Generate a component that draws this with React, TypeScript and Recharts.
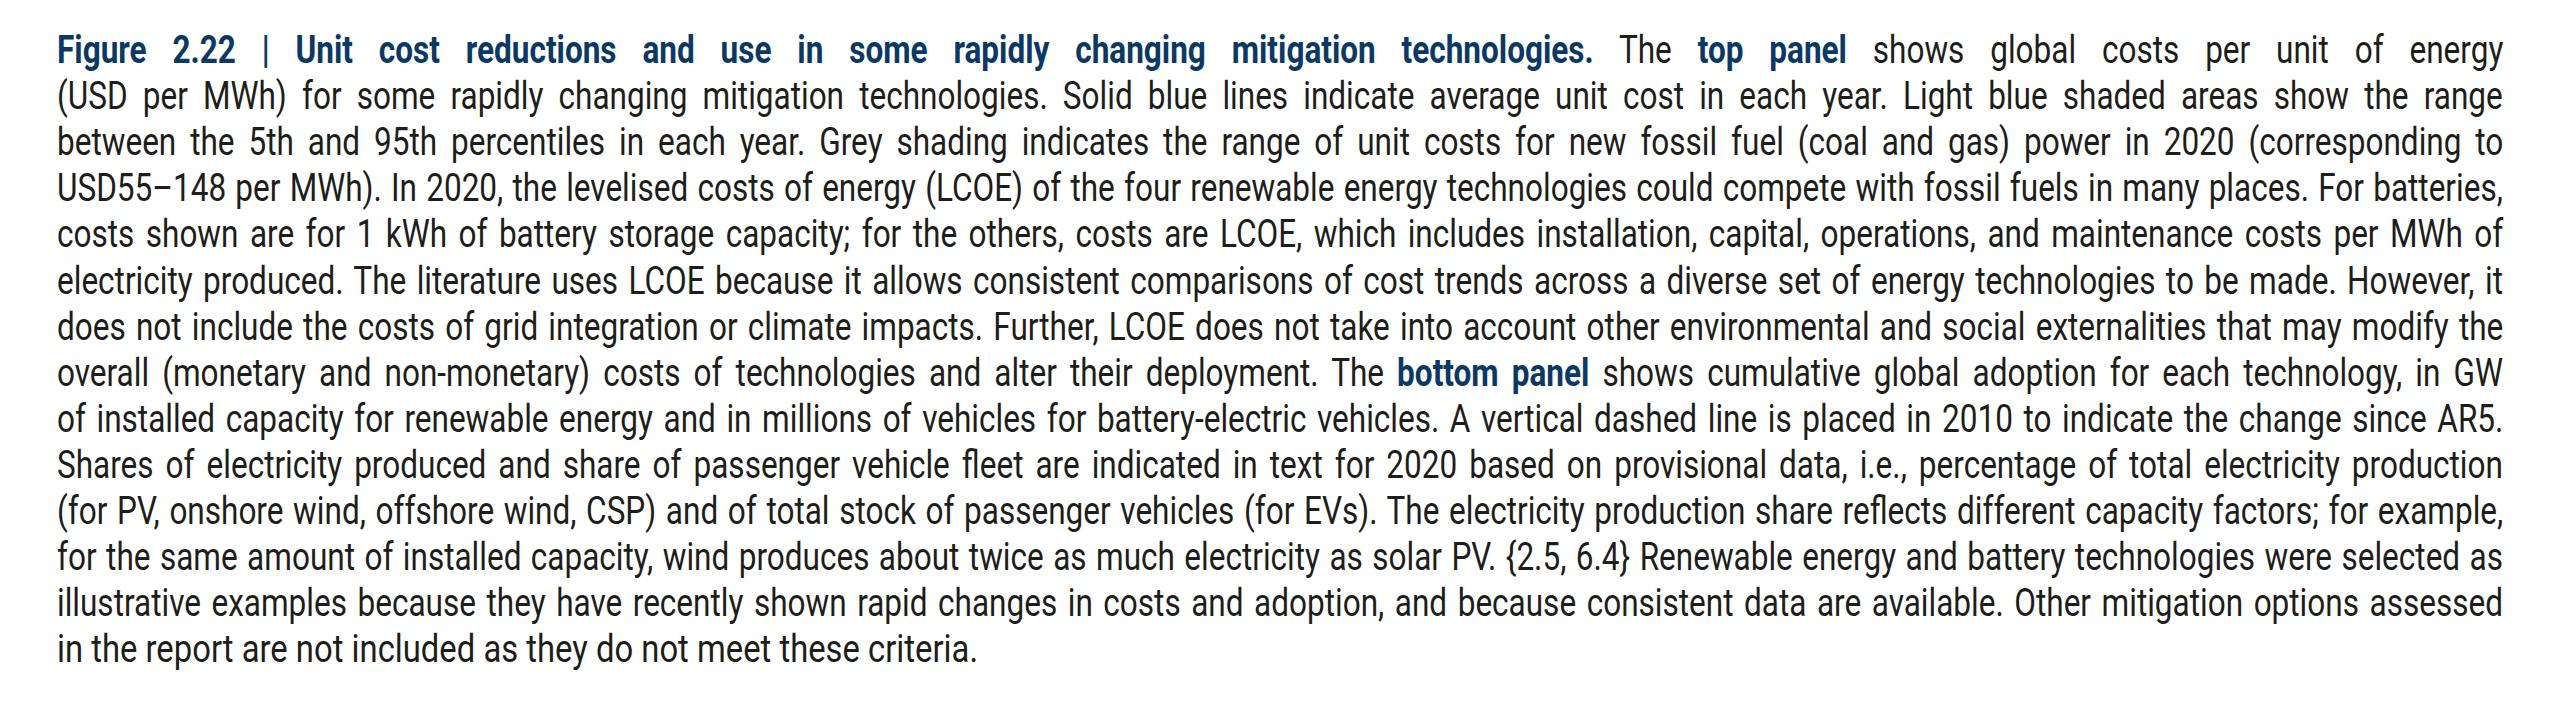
import React, { useLayoutEffect, useRef, useState } from 'react';
import { Surface } from 'recharts';

// caption lines as printed, each a list of [text, bold] runs
type Run = [string, boolean?];

const captionLines: Run[][] = [
  [['Figure 2.22 | Unit cost reductions and use in some rapidly changing mitigation technologies.', true], [' The '], ['top panel', true], [' shows global costs per unit of energy']],
  [['(USD per MWh) for some rapidly changing mitigation technologies. Solid blue lines indicate average unit cost in each year. Light blue shaded areas show the range']],
  [['between the 5th and 95th percentiles in each year. Grey shading indicates the range of unit costs for new fossil fuel (coal and gas) power in 2020 (corresponding to']],
  [['USD55–148 per MWh). In 2020, the levelised costs of energy (LCOE) of the four renewable energy technologies could compete with fossil fuels in many places. For batteries,']],
  [['costs shown are for 1 kWh of battery storage capacity; for the others, costs are LCOE, which includes installation, capital, operations, and maintenance costs per MWh of']],
  [['electricity produced. The literature uses LCOE because it allows consistent comparisons of cost trends across a diverse set of energy technologies to be made. However, it']],
  [['does not include the costs of grid integration or climate impacts. Further, LCOE does not take into account other environmental and social externalities that may modify the']],
  [['overall (monetary and non-monetary) costs of technologies and alter their deployment. The '], ['bottom panel', true], [' shows cumulative global adoption for each technology, in GW']],
  [['of installed capacity for renewable energy and in millions of vehicles for battery-electric vehicles. A vertical dashed line is placed in 2010 to indicate the change since AR5.']],
  [['Shares of electricity produced and share of passenger vehicle fleet are indicated in text for 2020 based on provisional data, i.e., percentage of total electricity production']],
  [['(for PV, onshore wind, offshore wind, CSP) and of total stock of passenger vehicles (for EVs). The electricity production share reflects different capacity factors; for example,']],
  [['for the same amount of installed capacity, wind produces about twice as much electricity as solar PV. {2.5, 6.4} Renewable energy and battery technologies were selected as']],
  [['illustrative examples because they have recently shown rapid changes in costs and adoption, and because consistent data are available. Other mitigation options assessed']],
  [['in the report are not included as they do not meet these criteria.']],
];

const W = 2560;
const H = 701;
const LEFT = 57;
const RIGHT = 2503;
const LAST_END = 978;
const FIRST_BASELINE = 63;
const LINE_GAP = 46.1;
const FONT_SIZE = 39;
const NAVY = '#0b3963';
const INK = '#1d1d1b';

type Fit = { scale: number[]; spacing: number[]; base: number[] };

export default function App() {
  const refs = useRef<(HTMLSpanElement | null)[]>([]);
  const marks = useRef<(HTMLSpanElement | null)[]>([]);
  const [fit, setFit] = useState<Fit | null>(null);

  useLayoutEffect(() => {
    const target = RIGHT - LEFT;
    const widths = refs.current.map((el) => (el ? el.offsetWidth : target));
    const last = captionLines.length - 1;
    // condense the face like the printed one, but never so little that a justified line would have to squeeze its spaces
    const lastScale = (LAST_END - LEFT) / widths[last];
    let common = lastScale;
    widths.forEach((w, i) => {
      if (i < last) common = Math.min(common, (target / w) * 0.985);
    });
    const scale = widths.map((_, i) => (i === last ? lastScale : common));
    const spacing = widths.map((w, i) => {
      if (i === last) return 0;
      const spaces = captionLines[i].map((r) => r[0]).join('').split(' ').length - 1;
      return spaces ? (target / common - w) / spaces : 0;
    });
    const base = marks.current.map((m) => (m ? m.offsetTop : FONT_SIZE * 0.84));
    setFit({ scale, spacing, base });
  }, []);

  return (
    <div style={{ width: W, height: H, margin: -8, background: '#fff' }}>
      <Surface width={W} height={H}>
        <foreignObject x={0} y={0} width={W} height={H}>
          <div style={{ position: 'relative', width: W, height: H, fontFamily: 'Roboto, "Noto Sans", sans-serif', fontSize: FONT_SIZE, lineHeight: 1, color: INK }}>
            {captionLines.map((runs, i) => (
              <span
                key={i}
                ref={(el) => { refs.current[i] = el; }}
                style={{
                  position: 'absolute',
                  left: LEFT,
                  top: FIRST_BASELINE + i * LINE_GAP - (fit ? fit.base[i] : FONT_SIZE * 0.84),
                  whiteSpace: 'pre',
                  display: 'inline-block',
                  transformOrigin: '0 0',
                  transform: fit ? `scaleX(${fit.scale[i]})` : undefined,
                  wordSpacing: fit ? fit.spacing[i] : 0,
                }}
              >
                <span ref={(el) => { marks.current[i] = el; }} style={{ display: 'inline-block', width: 0, height: 0 }} />
                {runs.map(([t, b], j) => (
                  <span key={j} style={b ? { fontWeight: 700, color: NAVY } : undefined}>{t}</span>
                ))}
              </span>
            ))}
          </div>
        </foreignObject>
      </Surface>
    </div>
  );
}
